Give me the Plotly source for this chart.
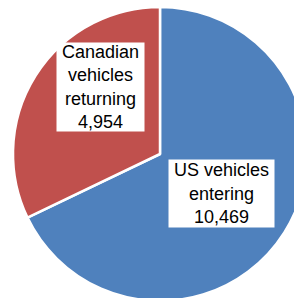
import plotly.graph_objects as go

categories = ["US vehicles entering", "Canadian vehicles returning"]
label_lines = [["US vehicles", "entering"], ["Canadian", "vehicles", "returning"]]
values = [10469, 4954]
colors = ["#4F81BD", "#C0504D"]

# label box centres (paper coords) and sizes
label_pos = [(0.709, 0.3656), (0.2976, 0.728)]
label_size = [(105, 67), (87, 88)]

fig = go.Figure(go.Pie(
    labels=categories,
    values=values,
    sort=False,
    direction="clockwise",
    rotation=0,
    marker=dict(colors=colors, line=dict(color="white", width=2.5)),
    textinfo="none",
    hoverinfo="label+value",
    showlegend=False,
    domain=dict(x=[0, 1], y=[0, 1]),
))

for lines, v, (x, y), (w, h) in zip(label_lines, values, label_pos, label_size):
    fig.add_annotation(
        x=x, y=y, xref="paper", yref="paper", xanchor="center", yanchor="middle",
        text="<br>".join(lines + [f"{v:,}"]),
        showarrow=False, bgcolor="white", borderpad=0, width=w, height=h,
        font=dict(family="Liberation Sans, Arial", size=18, color="black"),
    )

fig.update_layout(
    width=307, height=301,
    margin=dict(l=13, r=0, t=7, b=0),
    paper_bgcolor="white", plot_bgcolor="white",
)

fig.write_html("out.html", config={"displayModeBar": False},
               post_script="document.body.style.margin='0';document.body.style.overflow='hidden';document.documentElement.style.overflow='hidden';")
